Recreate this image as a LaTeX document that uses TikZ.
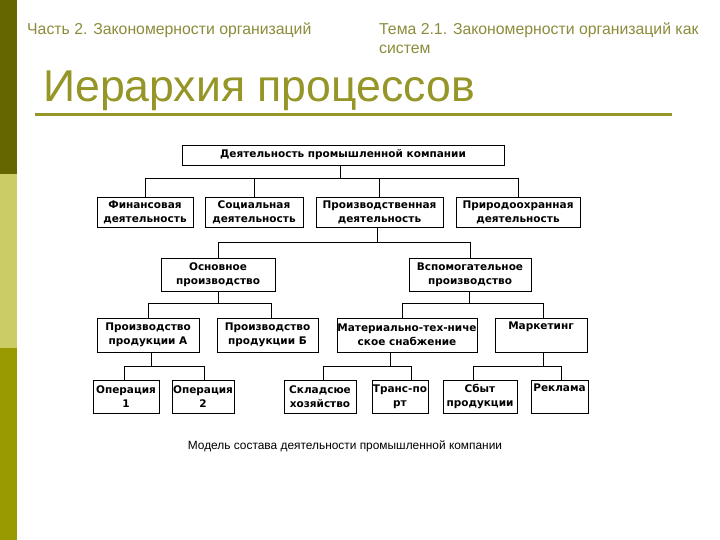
\documentclass[tikz,border=0pt]{standalone}
\usepackage{fontspec}
\setmainfont{Liberation Sans}
\newfontfamily\boxfont{DejaVu Sans}
\usepackage{tikz}

\definecolor{barDark}{RGB}{102,102,0}
\definecolor{barLight}{RGB}{204,204,102}
\definecolor{barMid}{RGB}{153,153,0}
\definecolor{titleOlive}{RGB}{150,150,40}
\definecolor{headOlive}{RGB}{140,140,60}

\tikzset{
  unit box/.style={draw, line width=0.9pt, align=center, inner sep=0pt,
    font=\boxfont\bfseries\fontsize{10.5}{14}\selectfont},
  link/.style={line width=0.9pt},
  head text/.style={text=headOlive, font=\fontsize{15.8}{18.5}\selectfont, inner sep=0pt}
}

\begin{document}
\begin{tikzpicture}[x=1pt, y=-1pt]
					% Frame of the slide
					\useasboundingbox (0,0) rectangle (720,540);
					\fill[white] (0,0) rectangle (720,540);
					
					% Left colour bar
					\fill[barDark] (0,0) rectangle (17,174);
					\fill[barLight] (0,174) rectangle (17,348);
					\fill[barMid] (0,348) rectangle (17,540);
					
					% Headers and title
					\node[head text, anchor=base west] (part) at (27,35) {Часть 2. Закономерности организаций};
					\node[head text, anchor=base west] (topic) at (379,35) {Тема 2.1. Закономерности организаций как};
					\node[head text, anchor=base west] (topic2) at (379,53.5) {систем};
					\node[anchor=base west, text=titleOlive, font=\fontsize{44.6}{50}\selectfont, inner sep=0pt] (title) at (43,102) {Иерархия процессов};
					\draw[titleOlive, line width=3pt] (35,115) -- (672,115);
					
					% Boxes of the hierarchy
					\node[unit box, minimum width=322, minimum height=20] (company) at (343,155) {Деятельность промышленной компании};
					
					\node[unit box, minimum width=96, minimum height=30] (fin) at (145,212) {Финансовая\\деятельность};
					\node[unit box, minimum width=98, minimum height=30] (soc) at (254,212) {Социальная\\деятельность};
					\node[unit box, minimum width=127, minimum height=30] (prod) at (379.5,212) {Производственная\\деятельность};
					\node[unit box, minimum width=124, minimum height=30] (nature) at (518,212) {Природоохранная\\деятельность};
					
					\node[unit box, minimum width=114, minimum height=33] (main) at (218,274.5) {Основное\\производство};
					\node[unit box, minimum width=122, minimum height=33] (aux) at (470,274.5) {Вспомогательное\\производство};
					
					\node[unit box, minimum width=102, minimum height=34] (prodA) at (148,335) {Производство\\продукции А};
					\node[unit box, minimum width=101, minimum height=34] (prodB) at (267.5,335) {Производство\\продукции Б};
					\node[unit box, minimum width=140, minimum height=34] (supply) at (407,335) {Материально-тех-ниче\\ское снабжение};
					\node[unit box, minimum width=92, minimum height=34] (market) at (541,335) {Маркетинг\\\strut};
					
					\node[unit box, minimum width=66, minimum height=33] (op1) at (126,396.5) {Операция\\1};
					\node[unit box, minimum width=62, minimum height=33] (op2) at (203,396.5) {Операция\\2};
					\node[unit box, minimum width=72, minimum height=33] (store) at (320,396.5) {Складсюе\\хозяйство};
					\node[unit box, minimum width=56, minimum height=33] (trans) at (400,396.5) {Транс-по\\рт};
					\node[unit box, minimum width=74, minimum height=33] (sales) at (480,396.5) {Сбыт\\продукции};
					\node[unit box, minimum width=57, minimum height=33] (ads) at (559.5,396.5) {Реклама\\\strut};
					
					% Connectors
					\draw[link] (fin.north) -- ++(0,-18) -| ([xshift=-3]company.south);
					\draw[link] (soc.north) -- ++(0,-18) -| ([xshift=-3]company.south);
					\draw[link] (prod.north) -- ++(0,-18) -| ([xshift=-3]company.south);
					\draw[link] (nature.north) -- ++(0,-18) -| ([xshift=-3]company.south);
					
					\draw[link] (main.north) -- ++(0,-15) -| ([xshift=-2.5]prod.south);
					\draw[link] (aux.north) -- ++(0,-15) -| ([xshift=-2.5]prod.south);
					
					\draw[link] (prodA.north) -- ++(0,-14) -| (main.south);
					\draw[link] ([xshift=3.5]prodB.north) -- ++(0,-14) -| (main.south);
					\draw[link] ([xshift=-5]supply.north) -- ++(0,-14) -| ([xshift=-1]aux.south);
					\draw[link] ([xshift=2]market.north) -- ++(0,-14) -| ([xshift=-1]aux.south);
					
					\draw[link] ([xshift=-2]op1.north) -- ++(0,-13) -| ([xshift=3]prodA.south);
					\draw[link] ([xshift=1]op2.north) -- ++(0,-13) -| ([xshift=3]prodA.south);
					\draw[link] ([xshift=3]store.north) -- ++(0,-13) -| ([xshift=-17]supply.south);
					\draw[link] ([xshift=11]trans.north) -- ++(0,-13) -| ([xshift=-17]supply.south);
					\draw[link] ([xshift=-7]sales.north) -- ++(0,-13) -| ([xshift=2]market.south);
					\draw[link] ([xshift=1.5]ads.north) -- ++(0,-13) -| ([xshift=2]market.south);
					
					% Caption
					\node[font=\fontsize{11.9}{14}\selectfont, inner sep=0pt] (caption) at (345,446) {Модель состава деятельности промышленной компании};
				\end{tikzpicture}
\end{document}
